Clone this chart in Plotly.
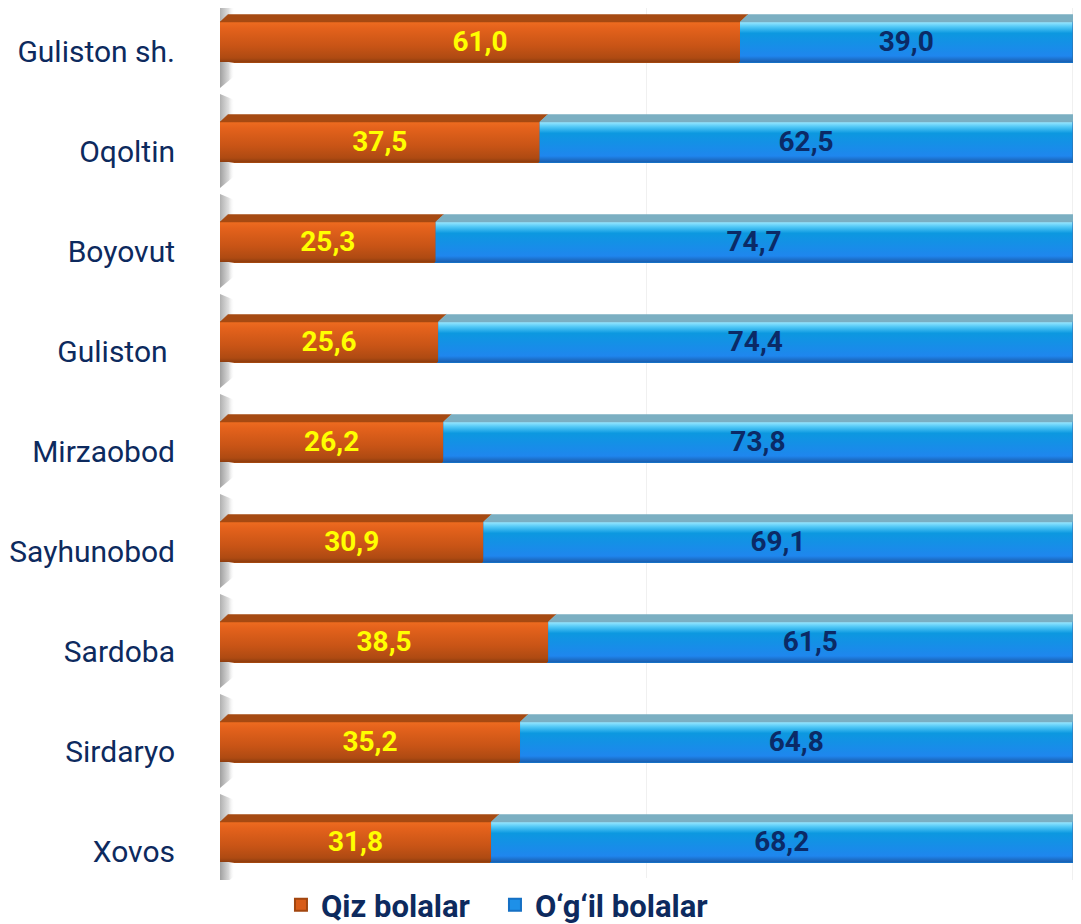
import plotly.graph_objects as go

# ---- data ----
districts = ["Guliston sh.", "Oqoltin", "Boyovut", "Guliston ", "Mirzaobod",
             "Sayhunobod", "Sardoba", "Sirdaryo", "Xovos"]
qiz_bolalar = [61.0, 37.5, 25.3, 25.6, 26.2, 30.9, 38.5, 35.2, 31.8]
ogil_bolalar = [39.0, 62.5, 74.7, 74.4, 73.8, 69.1, 61.5, 64.8, 68.2]
series_names = ["Qiz bolalar", "O\u2018g\u2018il bolalar"]

# ---- style ----
FONT = "Roboto"
NAVY = "#0D2A5E"
H = 0.2      # half height of bar front face (category units)
DX = 0.94    # 3D depth offset along x (value units)
DY = 0.075   # 3D depth offset along y (category units)

orange_scale = [[0, "#EE6C20"], [0.15, "#E4621C"], [0.6, "#C85416"], [0.9, "#AE4A12"], [1, "#8E3C0E"]]
blue_scale = [[0, "#9AE8FF"], [0.12, "#52C8F6"], [0.28, "#0C98E0"], [0.85, "#1F86EE"], [1, "#1A5FB0"]]
top_colors = ["#A64A12", "#7BAFC2"]
label_colors = ["#FFFF00", "#0B2A66"]

ys = list(range(len(districts)))
fig = go.Figure()

# legend / base bars
fig.add_trace(go.Bar(y=ys, x=qiz_bolalar, orientation="h", name=series_names[0],
                     marker=dict(color="#D85C18", line=dict(width=2, color="#A2460F")), width=2 * H))
fig.add_trace(go.Bar(y=ys, x=ogil_bolalar, orientation="h", name=series_names[1],
                     marker=dict(color="#1E90E8", line=dict(width=2, color="#1570C4")), width=2 * H,
                     base=qiz_bolalar))

def fmt(v):
    return f"{v:.1f}".replace(".", ",")

# wall shadows around each bar (left side)
for i in ys:
    fig.add_trace(go.Scatter(
        x=[0, 1.7, 1.7, 0, 0], y=[i + H, i + H - DY, i + H + 0.14, i + H + 0.26, i + H],
        mode="lines", line=dict(width=0), fill="toself",
        fillgradient=dict(type="horizontal", colorscale=[[0, "#A0A0A0"], [0.6, "#D8D8D8"], [1, "rgba(255,255,255,0)"]],
                          start=0, stop=1.7),
        showlegend=False, hoverinfo="skip"))
    fig.add_trace(go.Scatter(
        x=[0, 1.7, 1.7, 0, 0], y=[i - H - 0.28, i - H - 0.22, i - H - DY, i - H, i - H - 0.28],
        mode="lines", line=dict(width=0), fill="toself",
        fillgradient=dict(type="horizontal", colorscale=[[0, "#B0B0B0"], [0.6, "#E0E0E0"], [1, "rgba(255,255,255,0)"]],
                          start=0, stop=1.7),
        showlegend=False, hoverinfo="skip"))

# 3D faces
for s, (vals, scale) in enumerate([(qiz_bolalar, orange_scale), (ogil_bolalar, blue_scale)]):
    tx, ty = [], []
    for i in ys:
        a = 0 if s == 0 else qiz_bolalar[i]
        b = a + vals[i]
        # front face with vertical gradient
        fig.add_trace(go.Scatter(
            x=[a, b, b, a, a], y=[i - H, i - H, i + H, i + H, i - H],
            mode="lines", line=dict(width=0), fill="toself",
            fillgradient=dict(type="vertical", colorscale=scale, start=i - H, stop=i + H),
            showlegend=False, hoverinfo="skip"))
        # top face
        tx += [a, b, b + DX, a + DX, a, None]
        ty += [i - H, i - H, i - H - DY, i - H - DY, i - H, None]
    fig.add_trace(go.Scatter(x=tx, y=ty, mode="lines", line=dict(width=0.5, color=top_colors[s]),
                             fill="toself", fillcolor=top_colors[s],
                             showlegend=False, hoverinfo="skip"))

# right side face of the blue segment
for i in ys:
    b = qiz_bolalar[i] + ogil_bolalar[i]
    fig.add_trace(go.Scatter(
        x=[b, b + DX, b + DX, b, b], y=[i - H, i - H - DY, i + H - DY, i + H, i - H],
        mode="lines", line=dict(width=0), fill="toself",
        fillgradient=dict(type="vertical", colorscale=[[0, "#7FC4E0"], [0.3, "#3E8CC0"], [1, "#2A6AA6"]],
                          start=i - H - DY, stop=i + H),
        showlegend=False, hoverinfo="skip"))

# value labels
for s, vals in enumerate([qiz_bolalar, ogil_bolalar]):
    xs = []
    for i in ys:
        a = 0 if s == 0 else qiz_bolalar[i]
        xs.append(a + vals[i] / 2)
    fig.add_trace(go.Scatter(
        x=xs, y=[i + 0.02 for i in ys], mode="text", text=[fmt(v) for v in vals],
        textposition="middle center",
        textfont=dict(family=FONT, size=28, color=label_colors[s], weight="bold"),
        showlegend=False, hoverinfo="skip"))

# The page adds an 8px body margin, so the figure is 8px smaller and shifted.
fig.update_layout(
    width=1073, height=916,
    margin=dict(l=212, r=0, t=0, b=44, autoexpand=False),
    paper_bgcolor="white", plot_bgcolor="white",
    barmode="overlay",
    showlegend=True,
    legend=dict(orientation="h", xref="container", yref="container",
                x=0.2544, xanchor="left", y=0.0207, yanchor="middle",
                entrywidth=169, entrywidthmode="pixels",
                font=dict(family=FONT, size=31, color=NAVY, weight="bold"),
                itemclick=False, traceorder="normal"),
    xaxis=dict(range=[0, 101], showgrid=True, gridcolor="#F0F0F0", dtick=50,
               showticklabels=False, zeroline=False, showline=False, ticks="",
               automargin=False),
    yaxis=dict(range=[len(districts) - 1 + 0.38, -0.34], tickvals=[i + 0.09 for i in ys],
               ticktext=districts, showgrid=False, zeroline=False, showline=False,
               ticks="", ticklabelstandoff=44, automargin=False,
               tickfont=dict(family=FONT, size=30, color=NAVY)),
    font=dict(family=FONT),
)

fig.write_html("out.html")
